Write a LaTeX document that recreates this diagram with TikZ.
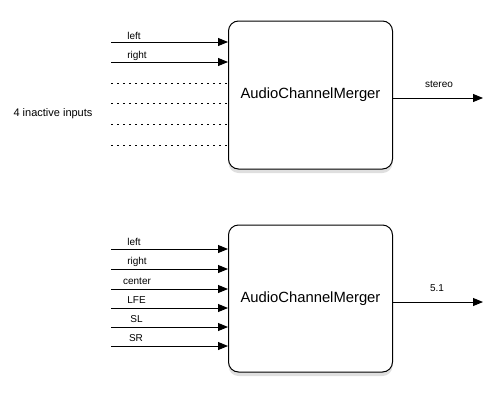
\documentclass[tikz,border=0pt]{standalone}
\usepackage{fontspec}
\setmainfont{Liberation Sans}
\usetikzlibrary{arrows.meta,shadows}
\begin{document}
\begin{tikzpicture}[x=1pt,y=-1pt,
  merger/.style={draw, line width=1pt, rounded corners=10pt, fill=white,
    drop shadow={opacity=0.25, shadow xshift=0pt, shadow yshift=-4pt},
    minimum width=164pt, font=\fontsize{14.8}{16}\selectfont, inner sep=0pt},
  sig/.style={line width=0.9pt, -{Triangle[length=10pt,width=8pt]}},
  idle/.style={line width=0.9pt, dash pattern=on 2pt off 4pt},
  lbl/.style={font=\fontsize{10}{12}\selectfont, inner sep=0pt},
  note/.style={font=\fontsize{11}{13}\selectfont, inner sep=0pt}]
\useasboundingbox (0,0) rectangle (498,402);
% top
\node[merger, minimum height=148pt] (m1) at (310.5,95) {AudioChannelMerger};
\foreach \y/\n in {42/a,62/b,83/c,103/d,124/e,145/f}{
  \coordinate (s\n) at (111,\y);
  \coordinate (t\n) at (228,\y);
}
\draw[sig] (sa) -- (ta);
\draw[sig] (sb) -- (tb);
\draw[idle] (sc) -- (tc);
\draw[idle] (sd) -- (td);
\draw[idle] (se) -- (te);
\draw[idle] (sf) -- (tf);
\node[lbl] (la) at (134,36) {left};
\node[lbl] (lb) at (137,56) {right};
\node[note] (ni) at (53,114) {4 inactive inputs};
\coordinate (o1s) at (392.5,98);
\coordinate (o1e) at (483,98);
\draw[sig] (o1s) -- (o1e);
\node[lbl] (lo1) at (439,84) {stereo};
% bottom
\node[merger, minimum height=147pt] (m2) at (310.5,298.5) {AudioChannelMerger};
\foreach \y/\n/\t/\xx in {249/a/left/134,269/b/right/137,289/c/center/137,308/d/LFE/136.5,327/e/SL/136.5,346/f/SR/136}{
  \coordinate (u\n) at (111,\y);
  \coordinate (v\n) at (228,\y);
  \draw[sig] (u\n) -- (v\n);
  \node[lbl] (k\n) at (\xx,\y-7.5) {\t};
}
\coordinate (o2s) at (392.5,302);
\coordinate (o2e) at (483,302);
\draw[sig] (o2s) -- (o2e);
\node[lbl] (lo2) at (437,288) {5.1};
\end{tikzpicture}
\end{document}
